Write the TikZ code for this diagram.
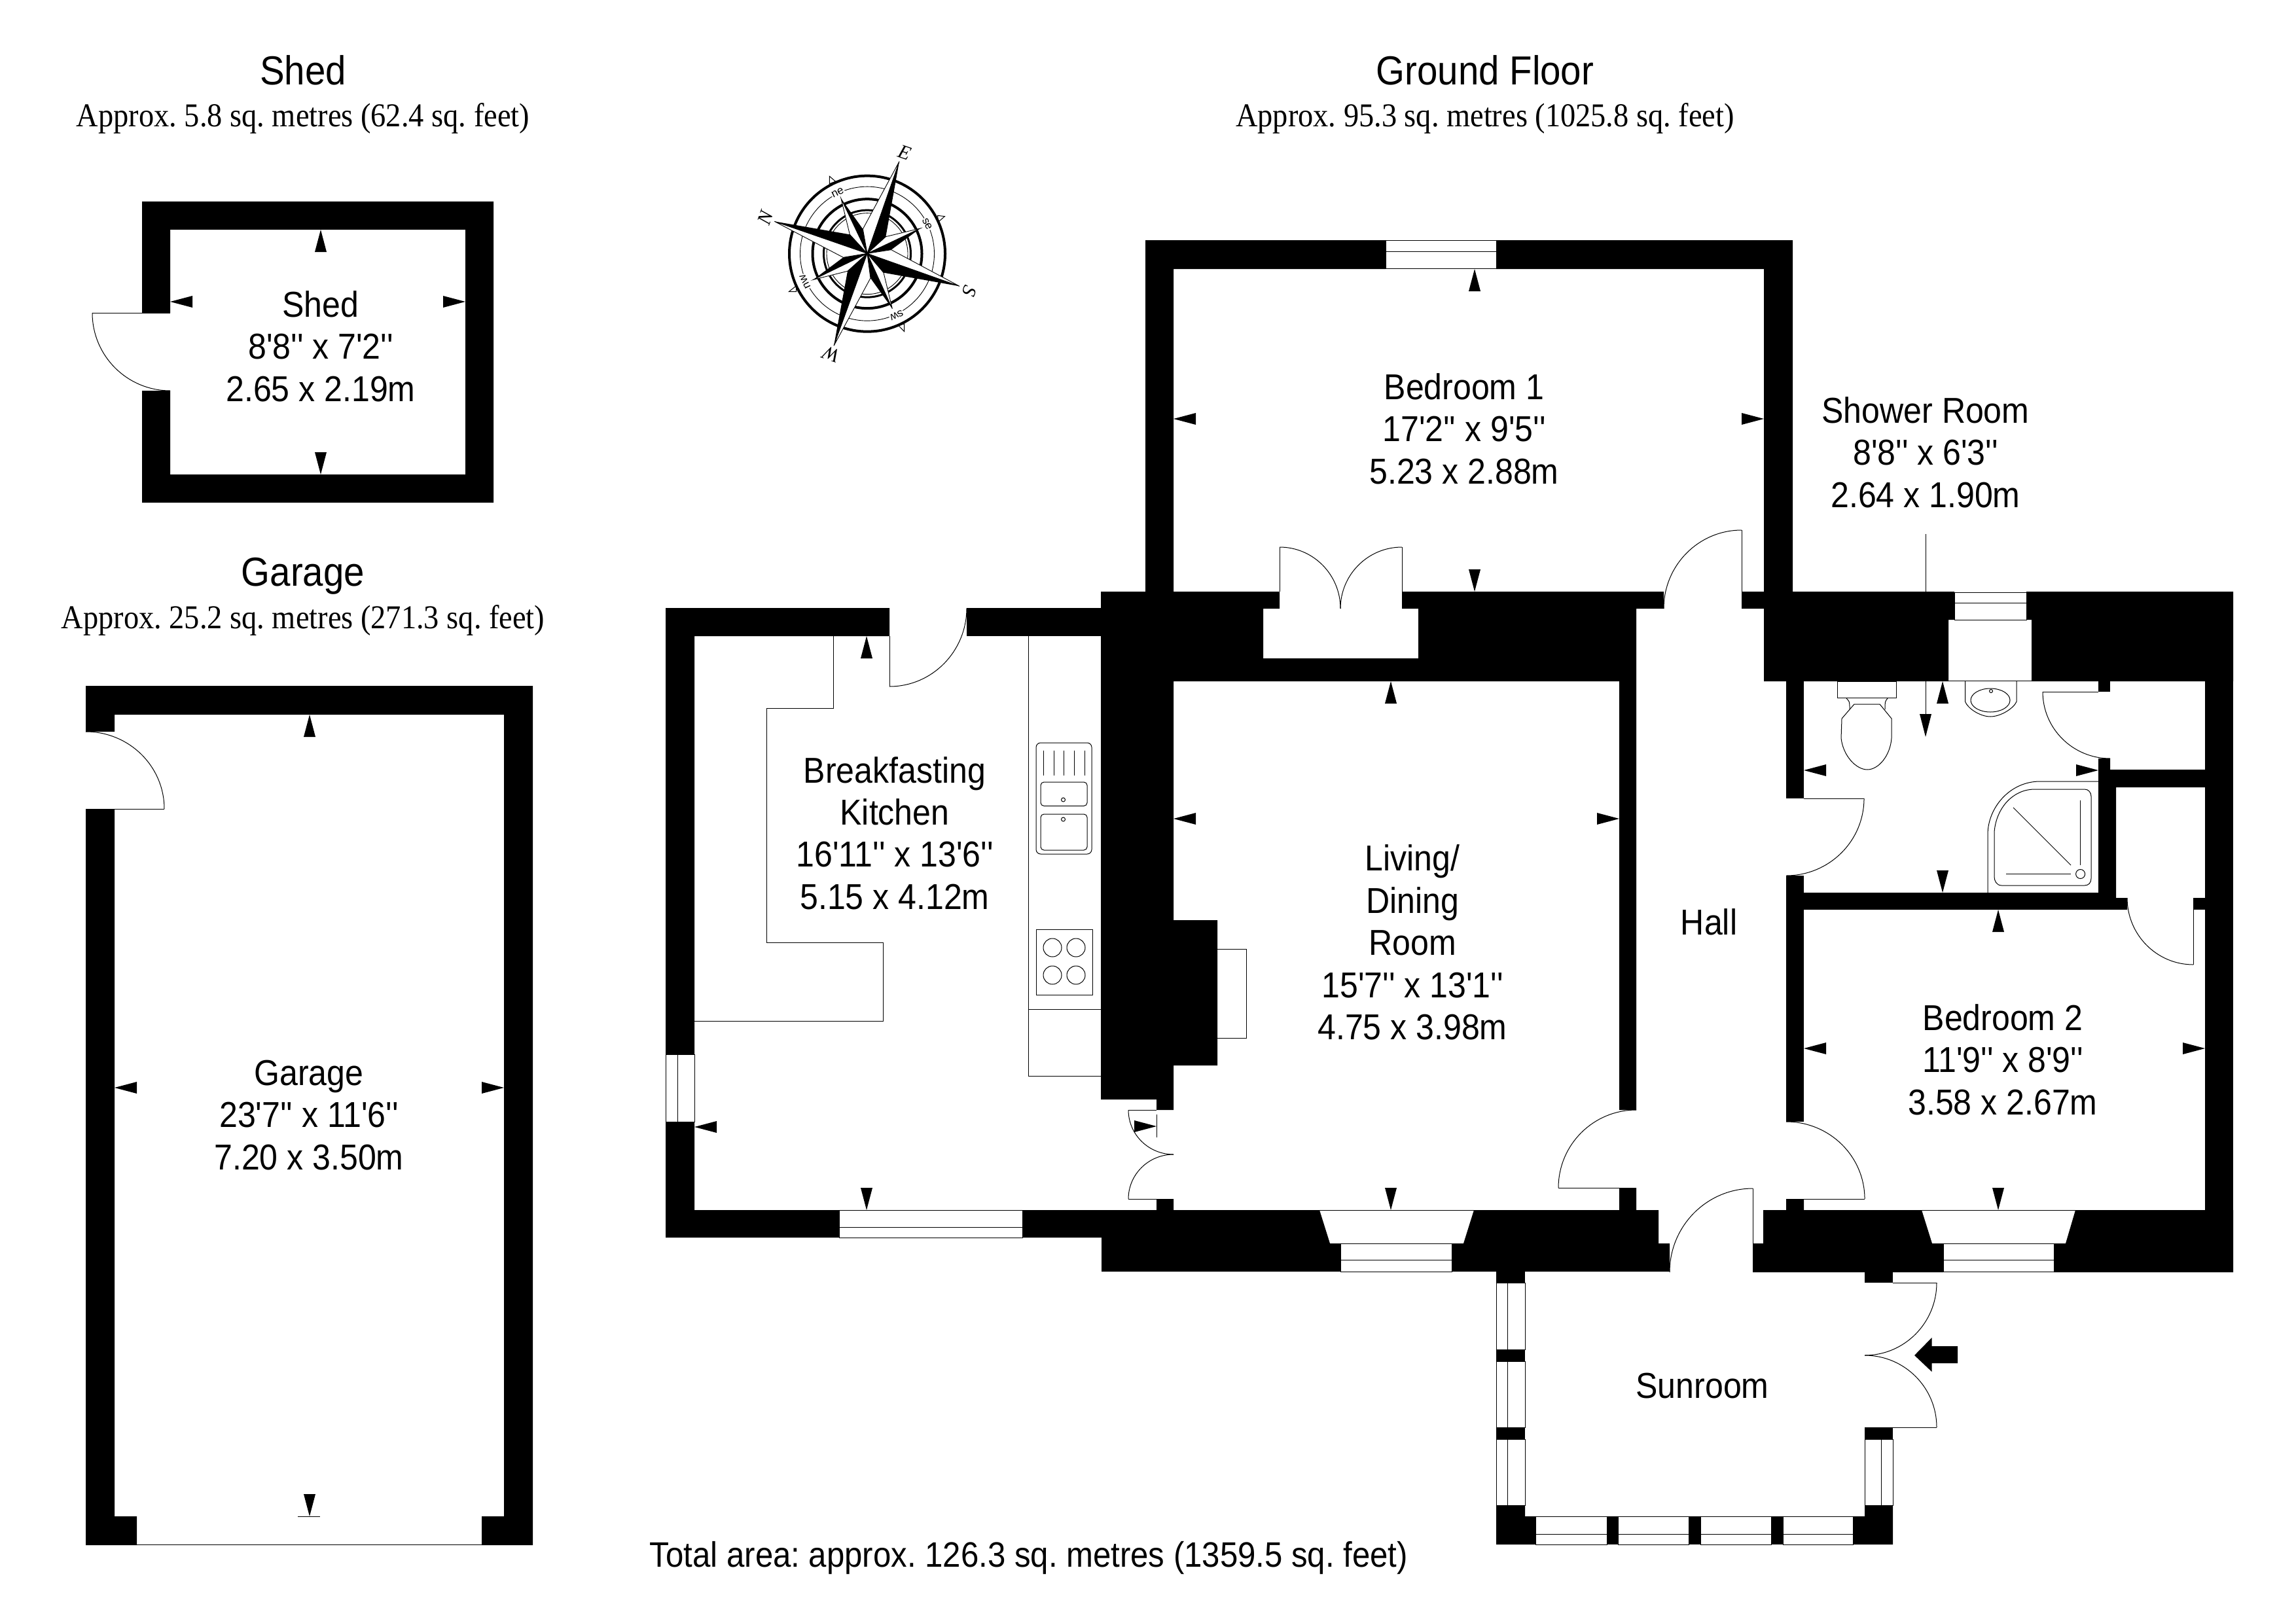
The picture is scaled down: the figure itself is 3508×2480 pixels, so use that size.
\documentclass[tikz,border=0pt]{standalone}
\usepackage{fontspec}
\newfontfamily\plansans[FakeStretch=0.91]{Liberation Sans}
\newfontfamily\planserif[FakeStretch=0.91]{Liberation Serif}
\newfontfamily\pointserif{Liberation Serif}
\newfontfamily\pointsans{Liberation Sans}
\frenchspacing
\newcommand\arU[2]{\fill ({#1},{#2})--({#1-9},{#2+34})--({#1+9},{#2+34})--cycle;}
\newcommand\arD[2]{\fill ({#1},{#2})--({#1-9},{#2-34})--({#1+9},{#2-34})--cycle;}
\newcommand\arL[2]{\fill ({#1},{#2})--({#1+34},{#2-9})--({#1+34},{#2+9})--cycle;}
\newcommand\arR[2]{\fill ({#1},{#2})--({#1-34},{#2-9})--({#1-34},{#2+9})--cycle;}
% quarter arc: centre, start, end
\newcommand\qarc[6]{\draw[thinline] (#3,#4) .. controls ({#3+0.5523*(#5-#1)},{#4+0.5523*(#6-#2)}) and ({#5+0.5523*(#3-#1)},{#6+0.5523*(#4-#2)}) .. (#5,#6);}
\tikzset{
  thinline/.style={line width=1pt,black},
  roomtext/.style={font=\plansans\fontsize{55}{64.4}\selectfont,align=center,inner sep=0pt},
  titletext/.style={font=\plansans\fontsize{62}{64}\selectfont,inner sep=0pt},
  subtext/.style={font=\planserif\fontsize{51}{54}\selectfont,inner sep=0pt},
  totaltext/.style={font=\plansans\fontsize{54}{54}\selectfont,inner sep=0pt},
  bigpoint/.style={font=\pointserif\itshape\fontsize{30}{30}\selectfont,inner sep=0pt},
  smallpoint/.style={font=\pointsans\fontsize{17}{17}\selectfont,inner sep=1pt,fill=white},
  wall/.style={fill=black,draw=none},
  glazing/.style={fill=white,draw=black,line width=1pt},
}
\begin{document}
\begin{tikzpicture}[x=1pt,y=-1pt]
\useasboundingbox (0,0) rectangle (3508,2480);
\fill[white] (0,0) rectangle (3508,2480);

% ---------- Shed
\path[wall] (217,308)--(754,308)--(754,768)--(217,768)--(217,597)--(260,597)--(260,725)--(711,725)--(711,351)--(260,351)--(260,478)--(217,478)--cycle;
\draw[thinline] (260,478)--(141,478);
\qarc{260}{478}{141}{478}{260}{597}
\arU{490}{351}\arD{490}{725}\arL{260}{461}\arR{711}{461}

% ---------- Garage
\path[wall] (131,1048)--(814,1048)--(814,2361)--(736,2361)--(736,2317)--(770,2317)--(770,1092)--(175,1092)--(175,1118)--(131,1118)--cycle;
\path[wall] (131,1236)--(175,1236)--(175,2317)--(209,2317)--(209,2361)--(131,2361)--cycle;
\draw[thinline] (209,2360)--(736,2360);
\draw[thinline] (131,1236)--(251,1236);
\qarc{131}{1236}{251}{1236}{131}{1118}
\arU{473}{1092}\arL{175}{1662}\arR{770}{1662}\arD{473}{2317}
\draw[thinline] (455,2317)--(489,2317);

% ---------- Kitchen walls
\path[wall] (1359,929)--(1017,929)--(1017,1611)--(1061,1611)--(1061,972)--(1359,972)--cycle;
\path[wall] (1477,929)--(1682,929)--(1682,972)--(1477,972)--cycle;
\path[wall] (1017,1714)--(1061,1714)--(1061,1849)--(1282,1849)--(1282,1891)--(1017,1891)--cycle;
\path[wall] (1562,1849)--(1767,1849)--(1767,1832)--(1793,1832)--(1793,1849)--(2016,1849)--(2032,1900)--(2048,1900)--(2048,1943)--(1683,1943)--(1683,1891)--(1562,1891)--cycle;
\draw[glazing] (1017,1611) rectangle (1061,1714);
\draw[thinline] (1035,1611)--(1035,1714);
\draw[glazing] (1282,1849) rectangle (1562,1891);
\draw[thinline] (1282,1875)--(1562,1875);
% kitchen door
\draw[thinline] (1359,972)--(1359,1049);
\qarc{1359}{929}{1359}{1049}{1477}{929}
% kitchen units
\draw[thinline] (1273.5,972)--(1273.5,1082)--(1171,1082)--(1171,1440)--(1349.5,1440)--(1349.5,1560)--(1061,1560);
\draw[thinline] (1571,972)--(1571,1644)--(1682,1644);
\draw[thinline] (1571,1542)--(1682,1542);
\draw[thinline,rounded corners=7pt] (1583,1135) rectangle (1668,1305);
\draw[thinline,rounded corners=5pt] (1590,1195) rectangle (1661,1231.5);
\draw[thinline,rounded corners=5pt] (1590,1244) rectangle (1661,1299);
\draw[thinline] (1624.5,1222) circle[radius=3pt];
\draw[thinline] (1624.5,1252) circle[radius=3pt];
\foreach \dx in {1594,1610,1625.5,1641,1657}{\draw[thinline] (\dx,1146.5)--(\dx,1185);}
\draw[thinline] (1583,1420) rectangle (1669,1520);
\foreach \cx/\cy in {1608/1448,1644/1448,1608/1490,1644/1490}{\draw[thinline] (\cx,\cy) circle[radius=14pt];}
\arU{1324}{972}\arD{1324}{1849}\arL{1061}{1722}

% ---------- Central masses
\path[wall] (1682,904)--(1955,904)--(1955,930)--(1930,930)--(1930,1006)--(2167,1006)--(2167,930)--(2142,930)--(2142,904)--(2542,904)--(2542,930)--(2500,930)--(2500,1696)--(2474,1696)--(2474,1041)--(1793,1041)--(1793,1406)--(1860,1406)--(1860,1628)--(1793,1628)--(1793,1696)--(1767,1696)--(1767,1680)--(1682,1680)--cycle;
\draw[thinline] (1860,1450)--(1904,1450)--(1904,1586)--(1860,1586);
% Bedroom 1 walls
\path[wall] (1750,367)--(2117,367)--(2117,411)--(1793,411)--(1793,904)--(1750,904)--cycle;
\path[wall] (2286,367)--(2739,367)--(2739,904)--(2695,904)--(2695,411)--(2286,411)--cycle;
\draw[glazing] (2117,367.5) rectangle (2286,410.5);
\draw[thinline] (2117,384)--(2286,384);
\arU{2253}{411}\arD{2253}{904}\arL{1793}{640}\arR{2695}{640}
% twin doors in recess
\draw[thinline] (1955,836)--(1955,904);
\draw[thinline] (2142,836)--(2142,904);
\qarc{1955}{930}{1955}{836}{2048}{930}
\qarc{2142}{930}{2142}{836}{2048}{930}
% Hall door
\draw[thinline] (2661,810)--(2661,904);
\qarc{2661}{930}{2661}{810}{2542}{930}
% Living room
\arU{2125}{1041}\arD{2125}{1849}\arL{1793}{1251}\arR{2474}{1251}
% kitchen-living double door
\draw[thinline] (1724,1696)--(1767,1696);
\draw[thinline] (1724,1832)--(1767,1832);
\qarc{1793}{1696}{1724}{1696}{1793}{1764}
\qarc{1793}{1832}{1724}{1832}{1793}{1764}
\arR{1767}{1721}
\draw[thinline] (1767,1703)--(1767,1738);
% living bay
\draw[thinline] (2016,1849)--(2252,1849);
\draw[glazing] (2048,1900) rectangle (2218,1943);
\draw[thinline] (2032,1900)--(2236,1900);
\draw[thinline] (2048,1925)--(2218,1925);
\path[wall] (2252,1849)--(2474,1849)--(2474,1815)--(2500,1815)--(2500,1849)--(2534,1849)--(2534,1900)--(2551,1900)--(2551,1943)--(2218,1943)--(2218,1900)--(2236,1900)--cycle;
% Hall-living door
\draw[thinline] (2474,1815)--(2381,1815);
\qarc{2500}{1815}{2381}{1815}{2500}{1696}

% ---------- East block
\path[wall] (2661,904)--(2986,904)--(2986,947)--(2977,947)--(2977,1041)--(2695,1041)--(2695,930)--(2661,930)--cycle;
\path[wall] (3096,904)--(3412,904)--(3412,1041)--(3104,1041)--(3104,947)--(3096,947)--cycle;
\draw[glazing] (2986,905) rectangle (3096,947);
\draw[thinline] (2986,921)--(3096,921);
\draw[thinline] (2977,1040)--(3104,1040);
\fill (3369,1041) rectangle (3412,1944);
\fill (2729,1041) rectangle (2756,1220);
\fill (2729,1338) rectangle (2756,1714);
\fill (3206,1041) rectangle (3224,1057);
\fill (3351,1372) rectangle (3369,1390);
\path[wall] (2729,1364)--(3206,1364)--(3206,1159)--(3224,1159)--(3224,1176)--(3369,1176)--(3369,1203)--(3233,1203)--(3233,1372)--(3250,1372)--(3250,1390)--(2729,1390)--cycle;
% doors
\draw[thinline] (2756,1220)--(2848,1220);
\qarc{2729}{1220}{2848}{1220}{2729}{1338}
\draw[thinline] (3121,1057)--(3206,1057);
\qarc{3224}{1057}{3121}{1057}{3224}{1159}
\draw[thinline] (3351,1390)--(3351,1474);
\qarc{3351}{1372}{3351}{1474}{3250}{1372}
\draw[thinline] (2756,1832)--(2849,1832);
\qarc{2729}{1832}{2849}{1832}{2729}{1714}
% toilet
\draw[thinline] (2807,1041) rectangle (2897,1066.5);
\draw[thinline] (2872,1076)--(2890,1098)--(2890,1128) .. controls (2888,1155) and (2870,1176) .. (2853,1176) .. controls (2836,1176) and (2816,1155) .. (2813,1128)--(2814,1098)--(2833,1076)--cycle;
\draw[thinline] (2821,1067) .. controls (2826,1072) .. (2826,1084);
\draw[thinline] (2884,1067) .. controls (2880,1072) .. (2880,1084);
% basin
\draw[thinline] (3002.5,1041)--(3002.5,1072) .. controls (3006,1082) and (3025,1095) .. (3041,1095) .. controls (3057,1095) and (3077,1082) .. (3081,1072)--(3081,1041);
\draw[thinline] (3041,1070) ellipse[x radius=30pt,y radius=18pt];
\draw[thinline] (3042,1056) circle[radius=2.5pt];
% shower
\draw[thinline] (3206,1194)--(3117,1194) .. controls (3070,1194) and (3037,1235) .. (3037,1275)--(3037,1364);
\draw[thinline] (3109,1206)--(3185,1206) .. controls (3191,1206) and (3195,1211) .. (3195,1217)--(3195,1342) .. controls (3195,1349) and (3191,1353) .. (3185,1353)--(3058,1353) .. controls (3050,1353) and (3047,1345) .. (3047,1340)--(3047,1271) .. controls (3050,1235) and (3075,1206) .. (3109,1206)--cycle;
\draw[thinline] (3178.6,1223)--(3178.6,1322);
\draw[thinline] (3076,1234)--(3164,1322);
\draw[thinline] (3065,1335.5)--(3164,1335.5);
\draw[thinline] (3178.6,1335.5) circle[radius=7pt];
\arU{2968}{1041}\arD{2968}{1364}\arL{2756}{1177}\arR{3206}{1177}
% leader line
\draw[thinline] (2942,816)--(2942,904);
\draw[thinline] (2942,1041)--(2942,1091);
\fill (2942,1126)--(2933,1091)--(2951,1091)--cycle;
% Bedroom 2 / south walls
\path[wall] (2694,1849)--(2729,1849)--(2729,1832)--(2756,1832)--(2756,1849)--(2936,1849)--(2952,1900)--(2969,1900)--(2969,1944)--(2678,1944)--(2678,1900)--(2694,1900)--cycle;
\path[wall] (3171,1849)--(3412,1849)--(3412,1944)--(3138,1944)--(3138,1900)--(3156,1900)--cycle;
\draw[thinline] (2936,1849)--(3171,1849);
\draw[glazing] (2969,1900) rectangle (3138,1943.5);
\draw[thinline] (2952,1900)--(3156,1900);
\draw[thinline] (2969,1925)--(3138,1925);
\arU{3053}{1390}\arD{3053}{1849}\arL{2756}{1602}\arR{3369}{1602}
% front hall door
\draw[thinline] (2678,1816)--(2678,1900);
\qarc{2678}{1944}{2678}{1816}{2551}{1944}

% ---------- Sunroom
\fill (2286,1943) rectangle (2330,1960);
\fill (2286,2062) rectangle (2330,2080);
\fill (2286,2181) rectangle (2330,2199);
\path[wall] (2286,2300)--(2330,2300)--(2330,2317)--(2346,2317)--(2346,2360)--(2286,2360)--cycle;
\foreach \ya/\yb in {1960/2062,2080/2181,2199/2300}{
  \draw[glazing] (2286,\ya) rectangle (2330,\yb);
  \draw[thinline] (2303,\ya)--(2303,\yb);
}
\foreach \xa/\xb in {2346/2455,2472/2580,2598/2706,2724/2831}{
  \draw[glazing] (\xa,2317) rectangle (\xb,2360);
  \draw[thinline] (\xa,2344)--(\xb,2344);
}
\fill (2455,2317) rectangle (2472,2360);
\fill (2580,2317) rectangle (2598,2360);
\fill (2706,2317) rectangle (2724,2360);
\path[wall] (2831,2317)--(2849,2317)--(2849,2300)--(2892,2300)--(2892,2360)--(2831,2360)--cycle;
\draw[glazing] (2849,2199) rectangle (2892,2300);
\draw[thinline] (2874,2199)--(2874,2300);
\fill (2849,2181) rectangle (2892,2199);
\fill (2849,1944) rectangle (2892,1960);
\draw[thinline] (2892,1960)--(2959,1960);
\draw[thinline] (2892,2181)--(2959,2181);
\qarc{2849}{1960}{2959}{1960}{2849}{2071}
\qarc{2849}{2181}{2959}{2181}{2849}{2071}
% entry arrow
\fill (2925,2071)--(2951.5,2044)--(2951.5,2057)--(2991,2057)--(2991,2083)--(2951.5,2083)--(2951.5,2096)--cycle;

% ---------- Texts
\node[titletext] (tshed) at (463,107) {Shed};
\node[subtext] (sshed) at (463,181) {Approx. 5.8 sq. metres (62.4 sq. feet)};
\node[titletext] (tgf) at (2269,107) {Ground Floor};
\node[subtext] (sgf) at (2269,181) {Approx. 95.3 sq. metres (1025.8 sq. feet)};
\node[titletext] (tgar) at (463,880) {Garage};
\node[subtext] (sgar) at (463,948) {Approx. 25.2 sq. metres (271.3 sq. feet)};
\node[totaltext] (total) at (1572,2381) {Total area: approx. 126.3 sq. metres (1359.5 sq. feet)};
\node[roomtext] (rshed) at (490,529) {Shed\\8'8'' x 7'2''\\2.65 x 2.19m};
\node[roomtext] (rgar) at (472,1704) {Garage\\23'7'' x 11'6''\\7.20 x 3.50m};
\node[roomtext] (rbed1) at (2237,655) {Bedroom 1\\17'2'' x 9'5''\\5.23 x 2.88m};
\node[roomtext] (rshow) at (2942,691) {Shower Room\\8'8'' x 6'3''\\2.64 x 1.90m};
\node[roomtext] (rkit) at (1367,1273) {Breakfasting\\Kitchen\\16'11'' x 13'6''\\5.15 x 4.12m};
\node[roomtext] (rliv) at (2158,1440) {Living/\\Dining\\Room\\15'7'' x 13'1''\\4.75 x 3.98m};
\node[roomtext] (rhall) at (2611,1409) {Hall};
\node[roomtext] (rbed2) at (3060,1619) {Bedroom 2\\11'9'' x 8'9''\\3.58 x 2.67m};
\node[roomtext] (rsun) at (2601,2118) {Sunroom};

% ---------- Compass rose
\begin{scope}[shift={(1050pt,-180pt)},x=0.33333pt,y=-0.33333pt]
  % tabs at the diagonals
  \draw[thinline,fill=white] (652,268)--(680,292)--(652,302)--cycle;
  \draw[thinline,fill=white] (1180,452)--(1150,478)--(1148,448)--cycle;
  \draw[thinline,fill=white] (995,980)--(966,950)--(995,945)--cycle;
  \draw[thinline,fill=white] (466,797)--(500,770)--(500,797)--cycle;
  \draw[line width=4pt] (825,623) circle[radius=119pt];
  \draw[line width=4pt] (825,623) circle[radius=83.5pt];
  \draw[line width=3pt] (825,623) circle[radius=66.5pt];
  \draw[line width=0.9pt] (825,623) circle[radius=62pt];
  \draw[line width=0.9pt] (825,623) circle[radius=102.5pt];
  \coordinate (cc) at (825,622);
  % minor points
  \foreach \tx/\ty/\bx/\by/\wx/\wy in {705/370/805/510/745/535, 1068/507/935/605/910/545, 940/875/840/735/900/710, 578/742/715/640/735/703}{
    \fill[white,draw=black,line width=0.9pt] (\tx,\ty)--(\wx,\wy)--(cc)--cycle;
    \fill[black] (\tx,\ty)--(\bx,\by)--(cc)--cycle;
  }
  % major points
  \foreach \tx/\ty/\bx/\by/\wx/\wy in {400/475/745/535/715/640, 972/200/910/545/805/510, 1248/772/900/710/935/605, 672/1045/735/703/840/735}{
    \fill[white,draw=black,line width=0.9pt] (\tx,\ty)--(\wx,\wy)--(cc)--cycle;
    \fill[black] (\tx,\ty)--(\bx,\by)--(cc)--cycle;
  }
  \node[bigpoint,rotate=71] (cN) at (357,458) {N};
  \node[bigpoint,rotate=-19] (cE) at (997,160) {E};
  \node[bigpoint,rotate=251] (cS) at (1295,795) {S};
  \node[bigpoint,rotate=161] (cW) at (662,1085) {W};
  \node[smallpoint,rotate=26] (cne) at (690,342) {ne};
  \node[smallpoint,rotate=-64] (cse) at (1100,487) {se};
  \node[smallpoint,rotate=206] (csw) at (960,905) {sw};
  \node[smallpoint,rotate=116] (cnw) at (540,752) {nw};
\end{scope}
\end{tikzpicture}
\end{document}
